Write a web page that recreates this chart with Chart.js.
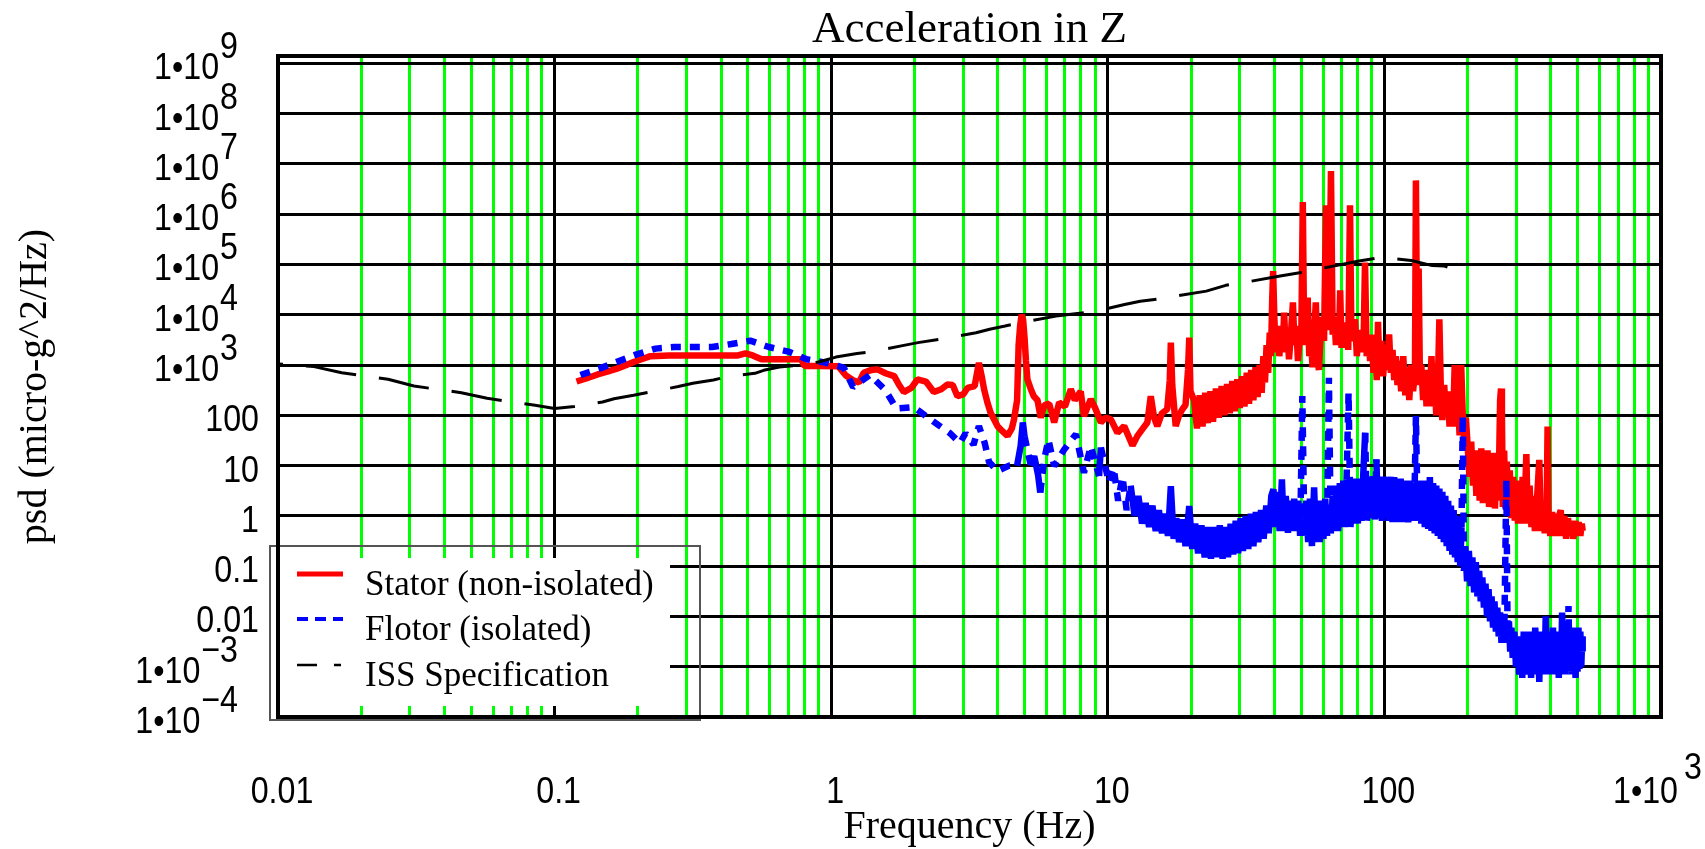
<!DOCTYPE html>
<html>
<head>
<meta charset="utf-8">
<title>Acceleration in Z</title>
<script src="https://cdn.jsdelivr.net/npm/chart.js@4.4.1/dist/chart.umd.min.js"></script>
<style>
  html, body { margin: 0; padding: 0; background: #fff; }
  #wrap { width: 1705px; height: 849px; }
</style>
</head>
<body>
<div id="wrap"><canvas id="psd" width="1705" height="849"></canvas></div>
<script>
// text
const chartTitle = "Acceleration in Z";
const xTitle = "Frequency (Hz)";
const yTitle = "psd (micro-g^2/Hz)";
const seriesNames = ["Stator (non-isolated)", "Flotor (isolated)", "ISS Specification"];

// axes
const xDecades = [0.01, 0.1, 1, 10, 100, 1000];
const yDecades = [1e-4, 1e-3, 0.01, 0.1, 1, 10, 100, 1e3, 1e4, 1e5, 1e6, 1e7, 1e8, 1e9];
const yTop = 1.4e9;

// [frequency Hz, psd]
const statorPoints = [
  [0.12,470],[0.13,540],[0.143,650],[0.155,740],[0.168,850],[0.18,980],[0.193,1150],[0.21,1350],[0.222,1500],[0.26,1550],
  [0.3,1550],[0.35,1550],[0.4,1550],[0.46,1550],[0.49,1700],[0.52,1550],[0.56,1300],[0.65,1300],[0.78,1300],[0.8,960],
  [0.9,960],[1.06,950],[1.13,620],[1.2,500],[1.26,450],[1.31,700],[1.4,800],[1.47,820],[1.58,680],[1.69,600],
  [1.76,400],[1.83,290],[1.95,350],[2.05,520],[2.2,470],[2.35,290],[2.5,330],[2.63,410],[2.75,400],[2.86,240],
  [3.0,260],[3.11,350],[3.3,380],[3.42,1100],[3.5,600],[3.57,330],[3.67,180],[3.77,113],[4.0,60],[4.1,52],
  [4.34,39],[4.5,55],[4.58,83],[4.7,200],[4.76,2500],[4.82,6000],[4.88,10000],[4.94,8000],[5.0,3500],[5.06,1200],
  [5.12,520],[5.27,330],[5.4,240],[5.57,200],[5.72,90],[5.9,160],[6.14,170],[6.4,72],[6.67,180],[7.0,150],
  [7.35,330],[7.6,200],[7.98,300],[8.2,97],[8.68,210],[9.0,140],[9.44,72],[9.8,90],[10.26,83],[10.84,45],
  [11.46,61],[12.28,25],[12.8,39],[13.4,55],[13.9,72],[14.3,240],[14.7,90],[15.1,61],[15.7,110],[16.4,132],
  [16.75,500],[16.9,2800],[17.1,400],[17.6,61],[18.1,100],[18.6,132],[19.1,160],[19.5,800],[19.7,3500],[19.9,300],
  [20.5,200],[21,55],[21.5,250],[22,60],[22.5,280],[23,70],[23.5,300],[24,75],[24.6,340],[25.2,90],
  [25.8,380],[26.4,100],[27,420],[27.6,110],[28.2,480],[28.8,120],[29.4,520],[30,140],[30.6,600],[31.2,150],
  [31.8,700],[32.4,170],[33,800],[33.6,200],[34.2,900],[34.8,230],[35.4,1000],[36,280],[36.5,1500],[37,450],
  [37.5,2500],[38,700],[38.5,4400],[38.9,1500],[39.3,20000],[39.6,74000],[40,9000],[40.5,1800],[41.1,6000],[41.7,1500],
  [42.3,5000],[42.9,2000],[43.4,11000],[44,1800],[44.6,5500],[45.2,1300],[45.9,4000],[46.7,17600],[47.3,2500],[48,6000],
  [48.7,1200],[49.4,3500],[50.1,5000],[50.7,1740000],[51.3,2500],[52,5000],[52.8,22000],[53.5,1500],[54.3,3000],[55,900],
  [55.8,5000],[56.5,17600],[57.3,1200],[58,800],[58.8,4000],[59.6,9000],[60.5,3000],[61.5,1500000],[62.3,5000],[63.2,12000],
  [64.1,7200000],[65,4000],[65.9,9000],[66.8,2500],[67.7,8000],[68.5,3000],[69.2,30500],[70,2200],[71,7000],[72,2500],
  [73,6000],[74,2000],[75.1,1500000],[76,3000],[77.2,6000],[78.3,8100],[79.5,1500],[80.6,4000],[81.8,1800],[83,5000],
  [84,2000],[85.1,109000],[86.3,1500],[87.5,3500],[88.8,1200],[90,4000],[91.3,700],[92.6,2500],[93.8,500],[94.8,7200],
  [96,800],[97.5,3000],[99,600],[100.5,2500],[102,800],[104,4070],[105.5,700],[107,2000],[108.5,500],[110,1500],
  [111.5,400],[113,1200],[115,300],[117,1500],[119,250],[121,900],[123,200],[125,1000],[127,300],[129,800],
  [130,4700000],[131.5,600],[133,83000],[134.5,400],[136,1000],[138,200],[140,800],[142,150],[144,700],[146,250],
  [148,1500],[150,150],[152,500],[154,100],[156,400],[158,8100],[160,300],[162,80],[164.5,400],[167,100],
  [169.5,300],[172,60],[174.5,250],[177,60],[179.5,1000],[182,80],[184.5,200],[187,40],[189.5,1000],[192,100],
  [194.5,30],[197,90],[200,25],[203,6],[206,30],[209,4],[212,20],[215,2.5],[218,18],[221,2],
  [224,22],[227,1.8],[230,15],[233,2],[236,20],[239,1.5],[242,12],[245,1.6],[248,18],[251,1.4],
  [254,12],[257,2],[260,15],[262,200],[264,340],[266,100],[268,1.5],[271,20],[274,1.4],[277,12],
  [280,1.2],[284,8],[288,0.9],[292,6],[296,0.8],[300,5],[304,0.7],[308,5],[312,0.8],[316,6],
  [320,0.7],[326,17],[330,0.7],[335,4],[340,0.6],[345,2.5],[350,0.5],[356,2],[363,13],[368,0.5],
  [374,1.5],[380,0.45],[386,1.3],[389,60],[392,1.0],[398,0.4],[404,1.2],[410,0.4],[416,1.1],[422,0.4],
  [428,1.0],[434,1.3],[440,0.4],[447,1.0],[454,0.35],[461,0.9],[468,0.4],[475,0.8],[482,0.35],[490,0.8],
  [497,0.4],[504,0.75],[511,0.4],[517,0.7],[521,0.5]
];

const flotorPoints = [
  [0.124,633],[0.145,848],[0.169,1170],[0.198,1630],[0.232,2120],[0.271,2280],[0.31,2280],[0.371,2280],[0.436,2620],[0.51,3050],
  [0.595,2280],[0.7,1850],[0.815,1300],[0.954,1115],[1.11,888],[1.2,366],[1.38,633],[1.57,318],[1.72,136],[1.99,146],
  [2.24,90],[2.45,63],[2.69,44],[2.92,28],[3.06,44],[3.27,26],[3.42,61],[3.59,28],[3.72,11.8],[3.99,7.8],
  [4.4,10],[4.7,10],[4.84,24.5],[4.93,72],[5.0,38],[5.27,10],[5.42,15.5],[5.6,6.4],[5.7,2.9],[5.9,13.8],
  [6.1,33],[6.4,9.8],[6.96,21],[7.67,42],[8.2,7.2],[8.68,24.5],[9.3,6.2],[9.44,23],[10.1,4.6],[10.5,9],
  [10.9,2.0],[11.3,6],[11.7,1.3],[12.1,4],[12.5,1.0],[12.9,2.5],[13.3,0.7],[13.7,1.8],[14.1,0.6],[14.5,1.6],
  [14.9,0.5],[15.3,1.3],[15.7,0.45],[16.1,1.1],[16.5,0.4],[16.9,3.9],[17.3,0.35],[17.7,0.9],[18.1,0.3],[18.6,0.85],
  [19.1,0.25],[19.7,1.57],[20.2,0.22],[20.7,0.7],[21.2,0.18],[21.8,0.65],[22.4,0.15],[23,0.6],[23.6,0.14],[24.2,0.6],
  [24.8,0.15],[25.4,0.65],[26,0.14],[26.6,0.6],[27.2,0.15],[27.8,0.7],[28.4,0.17],[29,0.8],[29.6,0.18],[30.2,0.9],
  [30.8,0.2],[31.5,1.0],[32.2,0.22],[32.9,1.1],[33.6,0.25],[34.3,1.2],[35,0.3],[35.8,1.3],[36.6,0.35],[37.4,1.6],
  [38.2,0.45],[39,2.5],[39.7,3.4],[40.4,0.6],[41.1,3],[41.8,0.5],[42.6,5.3],[43.3,0.5],[44,2.5],[44.8,0.46],
  [45.6,2.0],[46.4,0.5],[47.2,2.2],[48,0.5],[48.8,2],[49.6,0.4],[50.5,241],[51.4,0.4],[52.2,2.0],[53,0.3],
  [53.8,2.2],[54.7,0.25],[55.7,3.7],[56.6,0.3],[57.5,2.0],[58.4,0.3],[59.3,2.0],[60.2,0.35],[61.1,2.2],[62,0.4],
  [63,560],[64,0.45],[65,2.5],[66,0.5],[67,4],[68,0.5],[69,4.5],[70,0.6],[71,5],[72,0.6],
  [73,5.3],[74.2,282],[75.4,0.6],[76.6,5],[77.8,0.7],[79,5.5],[80.2,0.7],[81.4,5.5],[82.6,0.8],[83.8,6],
  [85.2,45],[86.5,0.8],[88,6],[89.5,0.9],[91,6.2],[92.5,0.85],[93.5,13.3],[95,0.9],[96.5,6],[98,0.8],
  [99.5,6],[101,0.9],[102.5,5.9],[104,0.8],[105.5,6],[107,0.75],[108.5,5.9],[110,0.8],[111.5,5.5],[113,0.75],
  [114.5,5.5],[116,0.8],[117.5,5],[119,0.75],[120.5,5],[122,0.74],[123.5,5],[125,0.8],[126.5,4.5],[128,0.8],
  [130,97],[132,0.8],[134,5],[136,0.7],[138,5],[140,0.6],[142,5],[144,0.55],[146,5.9],[148,0.5],
  [150,4.5],[152,0.45],[154,4],[156,0.4],[158,3.5],[160,0.35],[162,3],[164,0.3],[166,2.5],[168,0.25],
  [170,2],[172,0.2],[174,1.6],[176,0.17],[178,1.3],[180,0.15],[182,1.0],[184,0.12],[186,0.8],[188,0.1],
  [190,0.6],[192,100],[194,0.08],[196,0.25],[199,0.05],[202,0.2],[205,0.04],[208,0.15],[211,0.03],[214,0.12],
  [217,0.025],[220,0.08],[223,0.02],[226,0.06],[229,0.015],[232,0.045],[235,0.01],[238,0.035],[241,0.008],[244,0.025],
  [247,0.006],[250,0.02],[253,0.005],[256,0.015],[259,0.004],[262,0.012],[265,0.003],[268,0.01],[271,0.003],[276,5.3],
  [279,0.003],[282,0.008],[285,0.002],[288,0.006],[291,0.0015],[295,0.005],[299,0.001],[303,0.004],[307,0.0007],[311,0.004],
  [315,0.0006],[319,0.005],[323,0.0008],[327,0.004],[331,0.0007],[335,0.005],[339,0.0006],[343,0.004],[347,0.0008],[351,0.006],
  [355,0.0007],[359,0.004],[363,0.0005],[367,0.005],[371,0.0008],[375,0.004],[379,0.0007],[383,0.01],[387,0.0008],[391,0.005],
  [395,0.0007],[399,0.004],[403,0.0008],[407,0.006],[411,0.0007],[415,0.005],[419,0.0008],[423,0.004],[427,0.0006],[431,0.005],
  [435,0.0008],[439,0.012],[443,0.0009],[447,0.005],[451,0.0007],[455,0.006],[459,0.0009],[463,0.016],[467,0.0008],[471,0.005],
  [475,0.0007],[479,0.006],[483,0.0009],[487,0.005],[491,0.0006],[495,0.005],[499,0.0008],[503,0.006],[507,0.0009],[511,0.005],
  [515,0.001],[519,0.004],[521,0.002]
];

const issPoints = [
  [0.01,1050],[0.0135,930],[0.017,705],[0.025,520],[0.031,382],[0.046,282],[0.057,218],[0.085,158],[0.1,136],[0.118,150],
  [0.149,184],[0.164,214],[0.193,250],[0.22,290],[0.28,373],[0.316,433],[0.375,503],[0.42,587],[0.53,684],[0.57,785],
  [0.65,913],[0.8,1020],[0.9,1150],[1.04,1440],[1.24,1690],[1.42,1850],[1.83,2460],[2.06,2790],[2.47,3250],[3.34,4400],
  [3.74,5130],[4.25,5960],[4.7,6760],[6.5,9400],[9.1,11800],[11.5,16000],[13.1,18600],[15.6,21000],[22.7,29500],[26.7,38500],
  [30.5,43000],[42,59000],[50,69000],[57,80000],[81,117000],[98,140000],[125,120000],[149,95000],[165,93000],[180,80000],
  [200,69000]
];

// minor vertical grid: 1..9 per decade
const xGrid = [];
xDecades.forEach(d => { for (let k = 1; k <= 9; k++) if (d * k <= 1000) xGrid.push(d * k); });

function isDecade(v) {
  const l = Math.log10(v);
  return Math.abs(l - Math.round(l)) < 1e-9;
}
function toXY(points) {
  return points.map(p => ({ x: p[0], y: p[1] }));
}
function tickParts(v) {
  const e = Math.round(Math.log10(v));
  if (e >= -2 && e <= 2) return { base: String(v), exp: null };
  return { base: "1\u202210", exp: (e < 0 ? "\u2212" : "") + Math.abs(e) };
}

const TICK_FONT = '37px "Liberation Sans", Arial, sans-serif';
const SERIF = '"Liberation Serif", "Times New Roman", serif';
const SQUEEZE = 0.87;

function squeezedWidth(ctx, text) { return ctx.measureText(text).width * SQUEEZE; }
function drawSqueezed(ctx, text, x, y) {
  ctx.save();
  ctx.translate(x, y);
  ctx.scale(SQUEEZE, 1);
  ctx.fillText(text, 0, 0);
  ctx.restore();
}

// labels, legend and frame
const decor = {
  id: 'decor',
  afterDraw(chart) {
    const { ctx, chartArea: a, scales: { x, y } } = chart;
    ctx.save();

    // legend box
    ctx.fillStyle = '#fff';
    ctx.fillRect(a.left + 2, a.bottom - 159, 390, 148);
    ctx.strokeStyle = '#555';
    ctx.lineWidth = 2;
    ctx.strokeRect(a.left - 8, a.bottom - 171, 430, 174);

    const lx = a.left + 19;
    const rows = [a.bottom - 143, a.bottom - 98, a.bottom - 52];
    ctx.lineCap = 'butt';
    ctx.strokeStyle = '#ff0000'; ctx.lineWidth = 5; ctx.setLineDash([]);
    ctx.beginPath(); ctx.moveTo(lx, rows[0]); ctx.lineTo(lx + 46, rows[0]); ctx.stroke();
    ctx.strokeStyle = '#0000ff'; ctx.lineWidth = 4; ctx.setLineDash([11, 7]);
    ctx.beginPath(); ctx.moveTo(lx, rows[1]); ctx.lineTo(lx + 46, rows[1]); ctx.stroke();
    ctx.strokeStyle = '#000'; ctx.lineWidth = 2.5; ctx.setLineDash([20, 17]);
    ctx.beginPath(); ctx.moveTo(lx, rows[2]); ctx.lineTo(lx + 44, rows[2]); ctx.stroke();
    ctx.setLineDash([]);

    ctx.fillStyle = '#000';
    ctx.font = '35px ' + SERIF;
    ctx.textAlign = 'left';
    ctx.textBaseline = 'alphabetic';
    seriesNames.forEach((name, i) => ctx.fillText(name, a.left + 87, rows[i] + 21));

    // frame
    ctx.strokeStyle = '#000';
    ctx.lineWidth = 4;
    ctx.strokeRect(a.left, a.top, a.right - a.left, a.bottom - a.top);

    // y tick labels
    ctx.font = TICK_FONT;
    yDecades.forEach(v => {
      const py = y.getPixelForValue(v);
      const p = tickParts(v);
      if (!p.exp) {
        drawSqueezed(ctx, p.base, a.left - 19 - squeezedWidth(ctx, p.base), py + 16);
      } else {
        const ex = a.left - 40 - squeezedWidth(ctx, p.exp);
        drawSqueezed(ctx, p.exp, ex, py - 5);
        drawSqueezed(ctx, p.base, ex - 1 - squeezedWidth(ctx, p.base), py + 16);
      }
    });

    // x tick labels
    xDecades.forEach(v => {
      const px = x.getPixelForValue(v);
      const p = tickParts(v);
      if (!p.exp) {
        drawSqueezed(ctx, p.base, px + 4 - squeezedWidth(ctx, p.base) / 2, a.bottom + 86);
      } else {
        const bx = px - 48;
        drawSqueezed(ctx, p.base, bx, a.bottom + 86);
        drawSqueezed(ctx, p.exp, bx + squeezedWidth(ctx, p.base) + 6, a.bottom + 62);
      }
    });

    // titles
    const cx = (a.left + a.right) / 2;
    ctx.textAlign = 'center';
    ctx.font = '45px ' + SERIF;
    ctx.fillText(chartTitle, cx, a.top - 14);
    ctx.font = '40px ' + SERIF;
    ctx.fillText(xTitle, cx, a.bottom + 121);
    ctx.translate(46, (a.top + a.bottom) / 2);
    ctx.rotate(-Math.PI / 2);
    ctx.fillText(yTitle, 0, 0);

    ctx.restore();
  }
};

const lineStyle = { pointRadius: 0, tension: 0, fill: false, borderJoinStyle: 'bevel', borderCapStyle: 'butt' };

// flotor trace: dotted where the samples are sparse or jump far, solid in the dense noise
const flotorDash = c => {
  const dx = Math.abs(c.p1.x - c.p0.x);
  const dy = Math.abs(c.p1.y - c.p0.y);
  return (dx > 4 || dy > 60) ? [10, 9] : undefined;
};

new Chart(document.getElementById('psd'), {
  type: 'line',
  plugins: [decor],
  data: {
    datasets: [
      Object.assign({ label: seriesNames[2], data: toXY(issPoints), borderColor: '#000000',
        borderWidth: 3, borderDash: [51, 23], borderDashOffset: 46, order: 0 }, lineStyle),
      Object.assign({ label: seriesNames[1], data: toXY(flotorPoints), borderColor: '#0000ff',
        borderWidth: 6.5, borderDash: [], segment: { borderDash: flotorDash }, order: 1 }, lineStyle),
      Object.assign({ label: seriesNames[0], data: toXY(statorPoints), borderColor: '#ff0000',
        borderWidth: 6.5, order: 2 }, lineStyle)
    ]
  },
  options: {
    responsive: false,
    animation: false,
    devicePixelRatio: 1,
    layout: { padding: { left: 278, right: 44, top: 56, bottom: 132 } },
    plugins: {
      legend: { display: false },
      title: { display: false },
      tooltip: { enabled: false }
    },
    scales: {
      x: {
        type: 'logarithmic',
        min: 0.01,
        max: 1000,
        afterBuildTicks: s => { s.ticks = xGrid.map(v => ({ value: v })); },
        ticks: { display: false },
        grid: {
          color: c => (c.tick && isDecade(c.tick.value)) ? '#000000' : '#00ff00',
          lineWidth: 3,
          drawTicks: false
        },
        border: { display: false }
      },
      y: {
        type: 'logarithmic',
        min: 1e-4,
        max: yTop,
        afterBuildTicks: s => { s.ticks = yDecades.map(v => ({ value: v })); },
        ticks: { display: false },
        grid: { color: '#000000', lineWidth: 3, drawTicks: false },
        border: { display: false }
      }
    }
  }
});
</script>
</body>
</html>
